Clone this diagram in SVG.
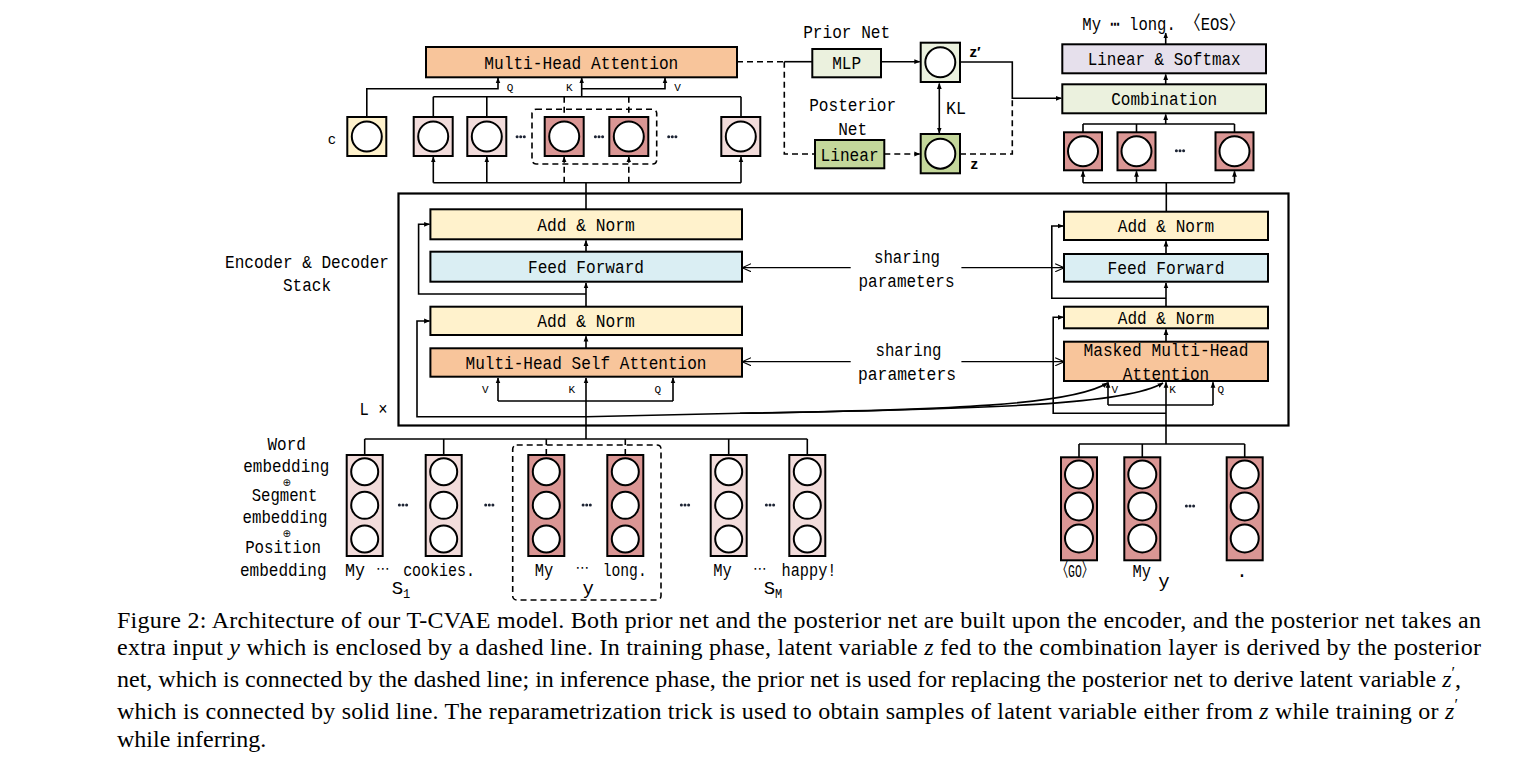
<svg xmlns="http://www.w3.org/2000/svg" width="1526" height="763" viewBox="0 0 1526 763">
<defs>
<style>
.bx{stroke:#000;stroke-width:2}
.ln{fill:none;stroke:#000;stroke-width:1.6}
.th{fill:none;stroke:#000;stroke-width:1.2}
.ds{fill:none;stroke:#000;stroke-width:1.6;stroke-dasharray:6 4}
.cr{fill:#fff;stroke:#000;stroke-width:2}
.t{font-family:"Liberation Mono","DejaVu Sans Mono","Noto Sans CJK SC",monospace;font-size:19px;fill:#000;text-anchor:middle}
.el{font-family:"DejaVu Sans",sans-serif;font-size:14px;fill:#000;text-anchor:middle}
.sm{font-family:"Liberation Mono","DejaVu Sans Mono",monospace;font-size:11px;fill:#000}
.zz{font-family:"Liberation Sans","DejaVu Sans",sans-serif;font-size:15px;font-weight:bold;fill:#000}
.op{font-family:"DejaVu Sans",sans-serif;font-size:10px;fill:#000;text-anchor:middle}
.cap{font-family:"Liberation Serif","Times New Roman",serif;font-size:24px;fill:#000}
.lp{fill:#F2DCDB}.dp{fill:#DA9694}.yl{fill:#FFF2CC}.or{fill:#F8C59B}.bl{fill:#DAEEF3}.lg{fill:#EBF1DE}.gn{fill:#C4D79B}.pu{fill:#E6E0EC}
.dt{fill:#1c2333}
</style>
<marker id="ah" viewBox="0 0 10 10" refX="9" refY="5" markerWidth="6" markerHeight="6" markerUnits="userSpaceOnUse" orient="auto-start-reverse"><path d="M0,1 L10,5 L0,9 Z" fill="#000"/></marker>
<marker id="ao" viewBox="0 0 10 10" refX="9" refY="5" markerWidth="9" markerHeight="9" markerUnits="userSpaceOnUse" orient="auto"><path d="M0,0.5 L10,5 L0,9.5" fill="none" stroke="#000" stroke-width="1.2"/></marker>
<g id="dots" class="dt"><circle cx="-3.6" cy="0" r="1.5"/><circle cx="0" cy="0" r="1.5"/><circle cx="3.6" cy="0" r="1.5"/></g>
</defs>

<!-- connectors -->
<g id="connectors">
  <!-- encoder output buses -->
  <path class="ln" d="M586,209.3 V182.7"/>
  <path class="ln" d="M433.3,182.7 H741"/>
  <path class="ln" marker-end="url(#ah)" d="M433.3,182.7 V157"/>
  <path class="ln" marker-end="url(#ah)" d="M486.8,182.7 V157"/>
  <path class="ln" marker-end="url(#ah)" d="M741,182.7 V157"/>
  <path class="ds" marker-end="url(#ah)" d="M564.2,182.7 V157"/>
  <path class="ds" marker-end="url(#ah)" d="M628.8,182.7 V157"/>
  <path class="ln" d="M433.3,96.7 H741"/>
  <path class="ln" d="M433.3,96.7 V116 M486.8,96.7 V116 M741,96.7 V116"/>
  <path class="ds" d="M564.2,96.7 V116 M628.8,96.7 V116"/>
  <path class="ln" marker-end="url(#ah)" d="M581.7,96.7 V78"/>
  <path class="ln" marker-end="url(#ah)" d="M581.7,88.7 H665 V78"/>
  <path class="ln" marker-end="url(#ah)" d="M366.8,116 V88.7 H498 V78"/>
  <rect class="ds" x="532" y="109.3" width="124.7" height="54.7" rx="4"/>

  <!-- prior / posterior -->
  <path class="ds" d="M737,61.7 H784.3"/>
  <path class="ln" d="M784.3,61.7 H812"/>
  <path class="ds" d="M784.3,61.7 V154 H815"/>
  <path class="ln" marker-end="url(#ah)" d="M881,61.7 H919.7"/>
  <path class="ds" marker-end="url(#ah)" d="M884.3,154 H919.7"/>
  <path class="ln" marker-start="url(#ah)" marker-end="url(#ah)" d="M939.3,83.5 V133"/>
  <path class="ln" marker-end="url(#ah)" d="M960,62 H1012.3 V98.3 H1061.3"/>
  <path class="ds" d="M960,154 H1012.3 V98.3"/>

  <!-- decoder output -->
  <path class="ln" d="M1166.3,211.7 V182.7"/>
  <path class="ln" d="M1083,182.7 H1234.5"/>
  <path class="ln" marker-end="url(#ah)" d="M1083,182.7 V171.3"/>
  <path class="ln" marker-end="url(#ah)" d="M1136.5,182.7 V171.3"/>
  <path class="ln" marker-end="url(#ah)" d="M1234.5,182.7 V171.3"/>
  <path class="ln" d="M1083,124 H1234.5 M1083,124 V132.3 M1136.5,124 V132.3 M1234.5,124 V132.3"/>
  <path class="ln" marker-end="url(#ah)" d="M1165.7,124 V114.5"/>
  <path class="ln" marker-end="url(#ah)" d="M1165.7,84.3 V74.5"/>
  <path class="ln" marker-end="url(#ah)" d="M1165.7,44.3 V33"/>

  <!-- encoder stack -->
  <path class="ln" marker-end="url(#ah)" d="M586,251.7 V240.5"/>
  <path class="ln" marker-end="url(#ah)" d="M586,306.7 V283"/>
  <path class="ln" marker-end="url(#ah)" d="M586,294 H418.6 V224.3 H429.5"/>
  <path class="ln" marker-end="url(#ah)" d="M586,348.3 V336.2"/>
  <path class="ln" marker-end="url(#ah)" d="M586,439 V378"/>
  <path class="ln" d="M498,401 H673"/>
  <path class="ln" marker-end="url(#ah)" d="M498,401 V378"/>
  <path class="ln" marker-end="url(#ah)" d="M673,401 V378"/>
  <path class="ln" marker-end="url(#ah)" d="M586,416.7 H417 V321 H429.5"/>
  <path class="ln" marker-end="url(#ah)" d="M586,416.7 L740,413.3 C950,410 1072,405 1107.5,383"/>
  <path class="ln" marker-end="url(#ah)" d="M740,413.3 C1000,409 1128,404 1163,383"/>

  <!-- sharing parameters -->
  <path class="th" marker-end="url(#ao)" d="M850.7,267.7 H743"/>
  <path class="th" marker-end="url(#ao)" d="M961.4,267.7 H1063.3"/>
  <path class="th" marker-end="url(#ao)" d="M850.7,361.7 H743"/>
  <path class="th" marker-end="url(#ao)" d="M961.4,361.7 H1063.3"/>

  <!-- decoder stack -->
  <path class="ln" marker-end="url(#ah)" d="M1166,254 V241.2"/>
  <path class="ln" marker-end="url(#ah)" d="M1166,306.7 V283"/>
  <path class="ln" marker-end="url(#ah)" d="M1166,298.3 H1051.8 V226 H1063.3"/>
  <path class="ln" marker-end="url(#ah)" d="M1166,341.7 V329.5"/>
  <path class="ln" marker-end="url(#ah)" d="M1166,444 V382.3"/>
  <path class="ln" d="M1108,405 H1213"/>
  <path class="ln" marker-end="url(#ah)" d="M1108,405 V382.3"/>
  <path class="ln" marker-end="url(#ah)" d="M1213,405 V382.3"/>
  <path class="ln" marker-end="url(#ah)" d="M1166,413.3 H1053.2 V317.3 H1063.3"/>

  <!-- embedding buses -->
  <path class="ln" d="M364.7,439 H807.3"/>
  <path class="ln" d="M364.7,439 V455 M443.7,439 V455 M728.7,439 V455 M807.3,439 V455"/>
  <path class="ds" d="M546.3,439 V455 M625.3,439 V455"/>
  <rect class="ds" x="512.7" y="445" width="148.3" height="155" rx="4"/>
  <path class="ln" d="M1079,444 H1244.7"/>
  <path class="ln" d="M1079,444 V457.3 M1142.3,444 V457.3 M1244.7,444 V457.3"/>
</g>

<!-- stack frame -->
<g id="stack">
  <rect x="398.5" y="193.5" width="890" height="232" fill="none" stroke="#000" stroke-width="2.2"/>
  <text class="t" x="307" y="268" textLength="164" lengthAdjust="spacingAndGlyphs">Encoder &amp; Decoder</text>
  <text class="t" x="307" y="291" textLength="48" lengthAdjust="spacingAndGlyphs">Stack</text>
  <text class="t" x="373.5" y="415" textLength="28" lengthAdjust="spacingAndGlyphs">L ×</text>
</g>

<!-- top encoder attention -->
<g id="mha-top">
  <rect class="bx or" x="426" y="47" width="311" height="30.3"/>
  <text class="t" x="581.3" y="68.5" textLength="194" lengthAdjust="spacingAndGlyphs">Multi-Head Attention</text>
  <text class="sm" x="506.7" y="91">Q</text>
  <text class="sm" x="566" y="91">K</text>
  <text class="sm" x="674.3" y="91">V</text>
</g>

<g id="enc-out">
  <text x="327.7" y="144" font-family="Liberation Mono, monospace" font-size="14">c</text>
  <rect class="bx yl" x="347.3" y="117" width="39" height="39"/><circle class="cr" cx="366.8" cy="136.5" r="15"/>
  <rect class="bx lp" x="413.7" y="117" width="39" height="39"/><circle class="cr" cx="433.2" cy="136.5" r="15"/>
  <rect class="bx lp" x="467.3" y="117" width="39" height="39"/><circle class="cr" cx="486.8" cy="136.5" r="15"/>
  <rect class="bx dp" x="544.7" y="117" width="39" height="39"/><circle class="cr" cx="564.2" cy="136.5" r="15"/>
  <rect class="bx dp" x="609.3" y="117" width="39" height="39"/><circle class="cr" cx="628.8" cy="136.5" r="15"/>
  <rect class="bx lp" x="721.3" y="117" width="39" height="39"/><circle class="cr" cx="740.8" cy="136.5" r="15"/>
  <use href="#dots" x="520.7" y="136.7"/>
  <use href="#dots" x="599" y="136.7"/>
  <use href="#dots" x="672.3" y="136.7"/>
</g>

<g id="prior-net">
  <text class="t" x="846.7" y="38" textLength="87" lengthAdjust="spacingAndGlyphs">Prior Net</text>
  <rect class="bx lg" x="812.3" y="49" width="68.7" height="28.3"/>
  <text class="t" x="846.7" y="68.5" textLength="29" lengthAdjust="spacingAndGlyphs">MLP</text>
</g>

<g id="posterior-net">
  <text class="t" x="852.7" y="111" textLength="87" lengthAdjust="spacingAndGlyphs">Posterior</text>
  <text class="t" x="852.7" y="135" textLength="29" lengthAdjust="spacingAndGlyphs">Net</text>
  <rect class="bx gn" x="815" y="140" width="69.3" height="28.3"/>
  <text class="t" x="849.6" y="161" textLength="58" lengthAdjust="spacingAndGlyphs">Linear</text>
</g>

<g id="z-prime">
  <rect class="bx lg" x="920.7" y="42.7" width="39.3" height="39.3"/>
  <circle class="cr" cx="940.3" cy="62.3" r="15"/>
  <text class="zz" x="969.5" y="57">z′</text>
</g>

<g id="z">
  <rect class="bx gn" x="920.7" y="134" width="39.3" height="39.3"/>
  <circle class="cr" cx="940.3" cy="153.7" r="15"/>
  <text class="zz" x="970.5" y="168.5">z</text>
</g>

<g id="kl">
  <text class="t" x="956" y="113.5" textLength="20" lengthAdjust="spacingAndGlyphs">KL</text>
</g>

<g id="output-text">
  <text class="t" x="1163.3" y="30" textLength="162" lengthAdjust="spacingAndGlyphs">My ⋯ long. 〈EOS〉</text>
</g>

<g id="linear-softmax">
  <rect class="bx pu" x="1062.3" y="44.3" width="203.7" height="29"/>
  <text class="t" x="1164.2" y="65" textLength="153" lengthAdjust="spacingAndGlyphs">Linear &amp; Softmax</text>
</g>

<g id="combination">
  <rect class="bx lg" x="1062.3" y="84.3" width="203.7" height="29"/>
  <text class="t" x="1164.2" y="105" textLength="106" lengthAdjust="spacingAndGlyphs">Combination</text>
</g>

<g id="dec-out">
  <rect class="bx dp" x="1064" y="132.3" width="38" height="38"/><circle class="cr" cx="1083" cy="151.3" r="15"/>
  <rect class="bx dp" x="1117.5" y="132.3" width="38" height="38"/><circle class="cr" cx="1136.5" cy="151.3" r="15"/>
  <rect class="bx dp" x="1215.5" y="132.3" width="38" height="38"/><circle class="cr" cx="1234.5" cy="151.3" r="15"/>
  <use href="#dots" x="1180" y="150.7"/>
</g>

<!-- encoder layers -->
<g id="enc-addnorm-1">
  <rect class="bx yl" x="430.4" y="209.3" width="311.6" height="30"/>
  <text class="t" x="586" y="230.5" textLength="97.5" lengthAdjust="spacingAndGlyphs">Add &amp; Norm</text>
</g>
<g id="enc-ff">
  <rect class="bx bl" x="430.4" y="251.7" width="311.6" height="30"/>
  <text class="t" x="586" y="273" textLength="116" lengthAdjust="spacingAndGlyphs">Feed Forward</text>
</g>
<g id="enc-addnorm-2">
  <rect class="bx yl" x="430.4" y="306.7" width="311.6" height="28.3"/>
  <text class="t" x="586" y="327" textLength="97.5" lengthAdjust="spacingAndGlyphs">Add &amp; Norm</text>
</g>
<g id="enc-mhsa">
  <rect class="bx or" x="430.4" y="348.3" width="311.6" height="28.4"/>
  <text class="t" x="586" y="368.5" textLength="241" lengthAdjust="spacingAndGlyphs">Multi-Head Self Attention</text>
  <text class="sm" x="482" y="393">V</text>
  <text class="sm" x="568.6" y="393">K</text>
  <text class="sm" x="654.6" y="393">Q</text>
</g>

<g id="sharing-1">
  <text class="t" x="907" y="263" textLength="66" lengthAdjust="spacingAndGlyphs">sharing</text>
  <text class="t" x="906.5" y="286.5" textLength="96" lengthAdjust="spacingAndGlyphs">parameters</text>
</g>
<g id="sharing-2">
  <text class="t" x="908.5" y="356" textLength="66" lengthAdjust="spacingAndGlyphs">sharing</text>
  <text class="t" x="907" y="379.5" textLength="98" lengthAdjust="spacingAndGlyphs">parameters</text>
</g>

<!-- decoder layers -->
<g id="dec-addnorm-1">
  <rect class="bx yl" x="1064" y="211.7" width="204" height="28.3"/>
  <text class="t" x="1166" y="232" textLength="96.4" lengthAdjust="spacingAndGlyphs">Add &amp; Norm</text>
</g>
<g id="dec-ff">
  <rect class="bx bl" x="1064" y="254" width="204" height="27.7"/>
  <text class="t" x="1166" y="274" textLength="117" lengthAdjust="spacingAndGlyphs">Feed Forward</text>
</g>
<g id="dec-addnorm-2">
  <rect class="bx yl" x="1064" y="306.7" width="204" height="21.6"/>
  <text class="t" x="1166" y="323.8" textLength="96.4" lengthAdjust="spacingAndGlyphs">Add &amp; Norm</text>
</g>
<g id="dec-masked">
  <rect class="bx or" x="1064" y="341.7" width="204" height="39.3"/>
  <text class="t" x="1166" y="356" textLength="165" lengthAdjust="spacingAndGlyphs">Masked Multi-Head</text>
  <text class="t" x="1166" y="380" textLength="86.4" lengthAdjust="spacingAndGlyphs">Attention</text>
  <text class="sm" x="1111.4" y="393">V</text>
  <text class="sm" x="1169.3" y="393">K</text>
  <text class="sm" x="1217.5" y="393">Q</text>
</g>

<!-- embedding legend -->
<g id="embedding-legend">
  <text class="t" x="286.7" y="450" textLength="38.3" lengthAdjust="spacingAndGlyphs">Word</text>
  <text class="t" x="286.3" y="472" textLength="86" lengthAdjust="spacingAndGlyphs">embedding</text>
  <text class="op" x="286.7" y="486">⊕</text>
  <text class="t" x="284.5" y="501" textLength="65.7" lengthAdjust="spacingAndGlyphs">Segment</text>
  <text class="t" x="285" y="522.5" textLength="85" lengthAdjust="spacingAndGlyphs">embedding</text>
  <text class="op" x="286.7" y="537">⊕</text>
  <text class="t" x="283" y="553" textLength="75.7" lengthAdjust="spacingAndGlyphs">Position</text>
  <text class="t" x="283.3" y="576" textLength="86.7" lengthAdjust="spacingAndGlyphs">embedding</text>
</g>

<g id="enc-embeddings">
  <rect class="bx lp" x="346.7" y="455" width="36" height="101"/>
  <circle class="cr" cx="364.7" cy="471.7" r="13.5"/><circle class="cr" cx="364.7" cy="505.3" r="13.5"/><circle class="cr" cx="364.7" cy="539" r="13.5"/>
  <rect class="bx lp" x="425.7" y="455" width="36" height="101"/>
  <circle class="cr" cx="443.7" cy="471.7" r="13.5"/><circle class="cr" cx="443.7" cy="505.3" r="13.5"/><circle class="cr" cx="443.7" cy="539" r="13.5"/>
  <rect class="bx dp" x="528.3" y="455" width="36" height="101"/>
  <circle class="cr" cx="546.3" cy="471.7" r="13.5"/><circle class="cr" cx="546.3" cy="505.3" r="13.5"/><circle class="cr" cx="546.3" cy="539" r="13.5"/>
  <rect class="bx dp" x="607.3" y="455" width="36" height="101"/>
  <circle class="cr" cx="625.3" cy="471.7" r="13.5"/><circle class="cr" cx="625.3" cy="505.3" r="13.5"/><circle class="cr" cx="625.3" cy="539" r="13.5"/>
  <rect class="bx lp" x="710.7" y="455" width="36" height="101"/>
  <circle class="cr" cx="728.7" cy="471.7" r="13.5"/><circle class="cr" cx="728.7" cy="505.3" r="13.5"/><circle class="cr" cx="728.7" cy="539" r="13.5"/>
  <rect class="bx lp" x="789.3" y="455" width="36" height="101"/>
  <circle class="cr" cx="807.3" cy="471.7" r="13.5"/><circle class="cr" cx="807.3" cy="505.3" r="13.5"/><circle class="cr" cx="807.3" cy="539" r="13.5"/>
  <use href="#dots" x="403" y="505"/>
  <use href="#dots" x="489.3" y="505"/>
  <use href="#dots" x="586.7" y="505"/>
  <use href="#dots" x="685" y="505"/>
  <use href="#dots" x="770" y="505"/>
  <text class="t" x="355" y="576" textLength="20" lengthAdjust="spacingAndGlyphs">My</text>
  <text class="el" x="383" y="573">⋯</text>
  <text class="t" x="439" y="576" textLength="71.7" lengthAdjust="spacingAndGlyphs">cookies.</text>
  <text class="t" x="401" y="593.5">S<tspan font-size="12" dy="4">1</tspan></text>
  <text class="t" x="544" y="576" textLength="18.5" lengthAdjust="spacingAndGlyphs">My</text>
  <text class="el" x="582.5" y="572">⋯</text>
  <text class="t" x="588.3" y="594">y</text>
  <text class="t" x="624.7" y="576" textLength="44" lengthAdjust="spacingAndGlyphs">long.</text>
  <text class="t" x="722.5" y="576" textLength="18.5" lengthAdjust="spacingAndGlyphs">My</text>
  <text class="el" x="760" y="573">⋯</text>
  <text class="t" x="809" y="576" textLength="55" lengthAdjust="spacingAndGlyphs">happy!</text>
  <text class="t" x="773" y="594">S<tspan font-size="12" dy="4">M</tspan></text>
</g>

<g id="dec-embeddings">
  <rect class="bx dp" x="1061" y="457.3" width="36" height="103"/>
  <circle class="cr" cx="1079" cy="474.5" r="14"/><circle class="cr" cx="1079" cy="506.5" r="14"/><circle class="cr" cx="1079" cy="538.5" r="14"/>
  <rect class="bx dp" x="1124.3" y="457.3" width="36" height="103"/>
  <circle class="cr" cx="1142.3" cy="474.5" r="14"/><circle class="cr" cx="1142.3" cy="506.5" r="14"/><circle class="cr" cx="1142.3" cy="538.5" r="14"/>
  <rect class="bx dp" x="1226.7" y="457.3" width="36" height="103"/>
  <circle class="cr" cx="1244.7" cy="474.5" r="14"/><circle class="cr" cx="1244.7" cy="506.5" r="14"/><circle class="cr" cx="1244.7" cy="538.5" r="14"/>
  <use href="#dots" x="1190" y="506"/>
  <text class="t" x="1075" y="576.5" textLength="36.7" lengthAdjust="spacingAndGlyphs">〈GO〉</text>
  <text class="t" x="1141.7" y="576.5" textLength="18.5" lengthAdjust="spacingAndGlyphs">My</text>
  <text class="t" x="1242" y="576.5">.</text>
  <text class="t" x="1164" y="587">y</text>
</g>

<!-- caption -->
<g id="caption">
  <text class="cap" x="117" y="628" textLength="1364" lengthAdjust="spacing">Figure 2: Architecture of our T-CVAE model. Both prior net and the posterior net are built upon the encoder, and the posterior net takes an</text>
  <text class="cap" x="117" y="655" textLength="1364" lengthAdjust="spacing">extra input <tspan font-style="italic">y</tspan> which is enclosed by a dashed line. In training phase, latent variable <tspan font-style="italic">z</tspan> fed to the combination layer is derived by the posterior</text>
  <text class="cap" x="117" y="687" textLength="1344" lengthAdjust="spacing">net, which is connected by the dashed line; in inference phase, the prior net is used for replacing the posterior net to derive latent variable <tspan font-style="italic">z</tspan><tspan font-size="16" dy="-9">′</tspan><tspan dy="9">,</tspan></text>
  <text class="cap" x="117" y="719" textLength="1341" lengthAdjust="spacing">which is connected by solid line. The reparametrization trick is used to obtain samples of latent variable either from <tspan font-style="italic">z</tspan> while training or <tspan font-style="italic">z</tspan><tspan font-size="16" dy="-9">′</tspan></text>
  <text class="cap" x="117" y="747">while inferring.</text>
</g>
</svg>
